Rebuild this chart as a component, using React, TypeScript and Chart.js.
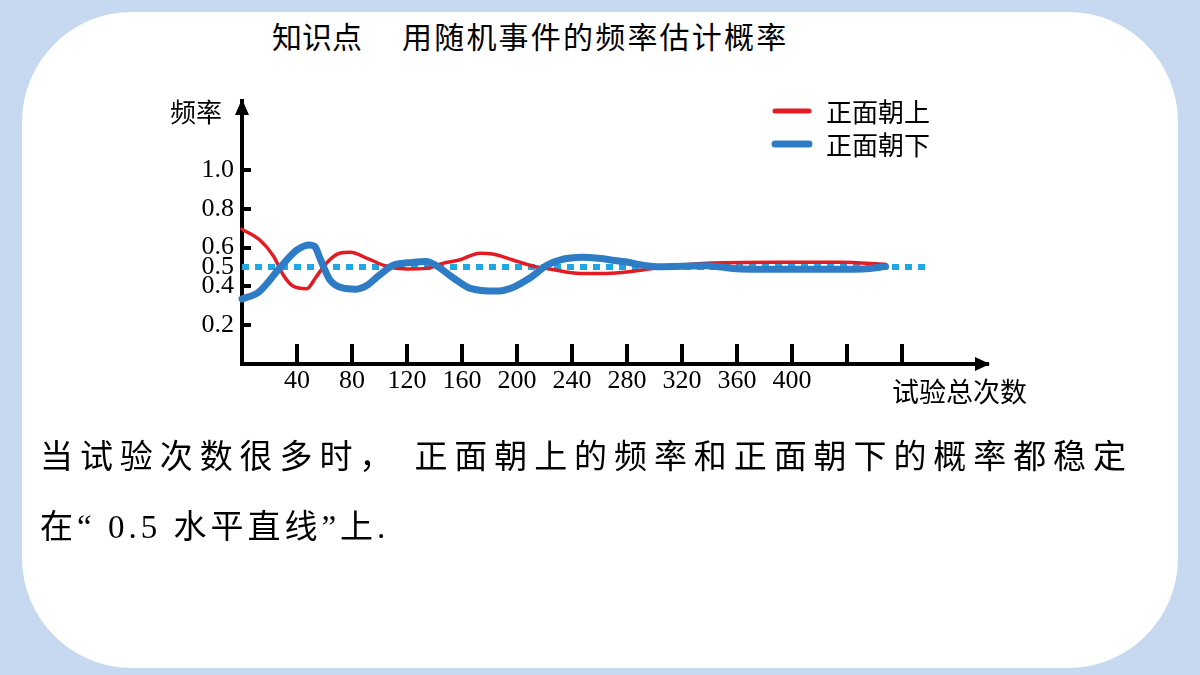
import React, { useEffect, useRef } from 'react';
import { Chart, registerables } from 'chart.js';

Chart.register(...registerables);

// 正面朝上 (red)
const upX = [0, 13, 23, 30, 37, 47, 54, 62, 71, 79, 91, 105, 120, 134, 146, 158, 173, 183, 197, 212, 224, 246, 265, 284, 304, 338, 386, 435, 468];
const upY = [0.695, 0.639, 0.555, 0.459, 0.402, 0.388, 0.45, 0.525, 0.571, 0.576, 0.545, 0.504, 0.49, 0.493, 0.519, 0.536, 0.571, 0.566, 0.536, 0.504, 0.49, 0.467, 0.467, 0.478, 0.498, 0.519, 0.524, 0.524, 0.514];

// 正面朝下 (blue)
const downX = [0, 12, 28, 40, 49, 53, 57, 64, 73, 83, 91, 100, 110, 124, 134, 142, 154, 166, 185, 197, 209, 222, 231, 248, 277, 302, 338, 362, 411, 452, 468];
const downY = [0.335, 0.37, 0.5, 0.588, 0.614, 0.605, 0.54, 0.433, 0.392, 0.386, 0.406, 0.459, 0.509, 0.524, 0.529, 0.504, 0.442, 0.39, 0.376, 0.395, 0.442, 0.51, 0.536, 0.55, 0.528, 0.502, 0.507, 0.49, 0.488, 0.49, 0.502];

// 0.5 reference line
const refX = [0, 500];
const refY = [0.5, 0.5];

const xTickValues = [40, 80, 120, 160, 200, 240, 280, 320, 360, 400, 440, 480];
const xTickLabels = ['40', '80', '120', '160', '200', '240', '280', '320', '360', '400', '', ''];
const yTickValues = [0.2, 0.4, 0.5, 0.6, 0.8, 1.0];
const yTickLabels = ['0.2', '0.4', '0.5', '0.6', '0.8', '1.0'];
const yTickMarks = [0.2, 0.4, 0.6, 0.8, 1.0];

const seriesNames = ['正面朝上', '正面朝下'];
const xTitle = '试验总次数';
const yTitle = '频率';
const titleHead = '知识点';
const titleBody = '用随机事件的频率估计概率';
const noteLine1 = '当试验次数很多时， 正面朝上的频率和正面朝下的概率都稳定';
const noteLine2 = '在“ 0.5 水平直线”上.';

const RED = '#e31b23';
const BLUE = '#2f7cc6';
const CYAN = '#1ea7e1';
const CJK = '"Noto Sans CJK SC", "Noto Sans", sans-serif';
const SERIF = '"Liberation Serif", "Noto Sans CJK SC", serif';

const toPts = (xs: number[], ys: number[]) => xs.map((x, i) => ({ x, y: ys[i] }));

const decorPlugin = {
  id: 'decor',
  afterDraw(chart: any) {
    const { ctx, chartArea } = chart;
    const xs = chart.scales.x;
    const ys = chart.scales.y;
    const L = chartArea.left;
    const B = chartArea.bottom;
    const T = chartArea.top;
    const R = chartArea.right;
    ctx.save();
    ctx.fillStyle = '#000';
    ctx.strokeStyle = '#000';
    // y tick marks
    ctx.lineWidth = 4;
    yTickMarks.forEach((v) => {
      const py = Math.round(ys.getPixelForValue(v));
      ctx.beginPath();
      ctx.moveTo(L, py);
      ctx.lineTo(L + 9, py);
      ctx.stroke();
    });
    // x tick marks
    xTickValues.forEach((v) => {
      const px = Math.round(xs.getPixelForValue(v));
      ctx.beginPath();
      ctx.moveTo(px, B);
      ctx.lineTo(px, B - 20);
      ctx.stroke();
    });
    // arrows
    ctx.beginPath();
    ctx.moveTo(L, T - 2);
    ctx.lineTo(L - 7, T + 14);
    ctx.lineTo(L + 7, T + 14);
    ctx.closePath();
    ctx.fill();
    ctx.beginPath();
    ctx.moveTo(R + 2, B);
    ctx.lineTo(R - 13, B - 7);
    ctx.lineTo(R - 13, B + 7);
    ctx.closePath();
    ctx.fill();
    // axis titles
    ctx.font = `26px ${CJK}`;
    ctx.textBaseline = 'middle';
    ctx.textAlign = 'right';
    ctx.fillText(yTitle, L - 20, T + 11);
    ctx.textAlign = 'left';
    ctx.font = `27px ${CJK}`;
    ctx.fillText(xTitle, R - 96, B + 28);
    // legend, in series order
    const items = seriesNames
      .map((n) => chart.data.datasets.find((d: any) => d.label === n))
      .filter(Boolean);
    items.forEach((d: any, i: number) => {
      const cy = 111 + i * 33;
      ctx.strokeStyle = d.borderColor;
      ctx.lineWidth = i === 0 ? 5 : 7;
      ctx.lineCap = 'round';
      ctx.beginPath();
      ctx.moveTo(775, cy);
      ctx.lineTo(809, cy);
      ctx.stroke();
      ctx.fillStyle = '#000';
      ctx.font = `26px ${CJK}`;
      ctx.textAlign = 'left';
      ctx.fillText(d.label, 826, cy + 1);
    });
    ctx.restore();
  },
};

export default function App() {
  const ref = useRef<HTMLCanvasElement | null>(null);
  useEffect(() => {
    if (!ref.current) return;
    const chart = new Chart(ref.current, {
      type: 'line',
      data: {
        datasets: [
          {
            label: seriesNames[1],
            data: toPts(downX, downY),
            borderColor: BLUE,
            borderWidth: 7,
            pointRadius: 0,
            cubicInterpolationMode: 'monotone',
            borderCapStyle: 'round',
            clip: false,
            order: 0,
          } as any,
          {
            label: seriesNames[0],
            data: toPts(upX, upY),
            borderColor: RED,
            borderWidth: 3.5,
            pointRadius: 0,
            cubicInterpolationMode: 'monotone',
            borderCapStyle: 'round',
            clip: false,
            order: 1,
          } as any,
          {
            label: '0.5',
            data: toPts(refX, refY),
            borderColor: CYAN,
            borderWidth: 6,
            borderDash: [7, 6],
            pointRadius: 0,
            clip: false,
            order: 2,
          } as any,
        ],
      },
      options: {
        animation: false,
        responsive: false,
        events: [],
        layout: { padding: { left: 182, right: 212, top: 101, bottom: 271 } },
        plugins: {
          legend: { display: false },
          tooltip: { enabled: false },
        },
        scales: {
          x: {
            type: 'linear',
            min: 0,
            max: 542.5,
            afterBuildTicks: (s: any) => {
              s.ticks = xTickValues.map((v) => ({ value: v }));
            },
            afterFit: (s: any) => {
              s.height = 40;
            },
            grid: { display: false, drawTicks: false },
            border: { display: true, color: '#000', width: 4 },
            ticks: {
              autoSkip: false,
              maxRotation: 0,
              padding: 2,
              color: '#000',
              font: { family: SERIF, size: 26 },
              callback: (_v: any, i: number) => xTickLabels[i],
            },
          },
          y: {
            type: 'linear',
            min: 0,
            max: 1.356,
            afterBuildTicks: (s: any) => {
              s.ticks = yTickValues.map((v) => ({ value: v }));
            },
            afterFit: (s: any) => {
              s.width = 60;
            },
            grid: { display: false, drawTicks: false },
            border: { display: true, color: '#000', width: 4 },
            ticks: {
              autoSkip: false,
              padding: 8,
              color: '#000',
              font: { family: SERIF, size: 26 },
              callback: (_v: any, i: number) => yTickLabels[i],
            },
          },
        },
      } as any,
      plugins: [decorPlugin],
    });
    return () => chart.destroy();
  }, []);

  return (
    <div style={{ position: 'fixed', left: 0, top: 0, width: 1200, height: 675, background: '#c6d9f1', overflow: 'hidden' }}>
      <div style={{ position: 'absolute', left: 22, top: 12, width: 1156, height: 656, background: '#fff', borderRadius: 110 }} />
      <div style={{ position: 'absolute', left: 272, top: 14, fontFamily: CJK, fontSize: 30, lineHeight: '42px', color: '#000', whiteSpace: 'pre' }}>{titleHead}</div>
      <div style={{ position: 'absolute', left: 402, top: 14, fontFamily: CJK, fontSize: 30, lineHeight: '42px', letterSpacing: 2.2, color: '#000', whiteSpace: 'pre' }}>{titleBody}</div>
      <canvas ref={ref} width={1200} height={675} style={{ position: 'absolute', left: 0, top: 0, width: 1200, height: 675 }} />
      <div style={{ position: 'absolute', left: 40, top: 422, width: 1086, fontFamily: SERIF, fontSize: 33, lineHeight: '70px', color: '#000', textAlign: 'justify', textAlignLast: 'justify' as any }}>
        {noteLine1}
      </div>
      <div style={{ position: 'absolute', left: 40, top: 492, fontFamily: SERIF, fontSize: 33, lineHeight: '70px', letterSpacing: 4, color: '#000', whiteSpace: 'pre' }}>
        {noteLine2}
      </div>
    </div>
  );
}
